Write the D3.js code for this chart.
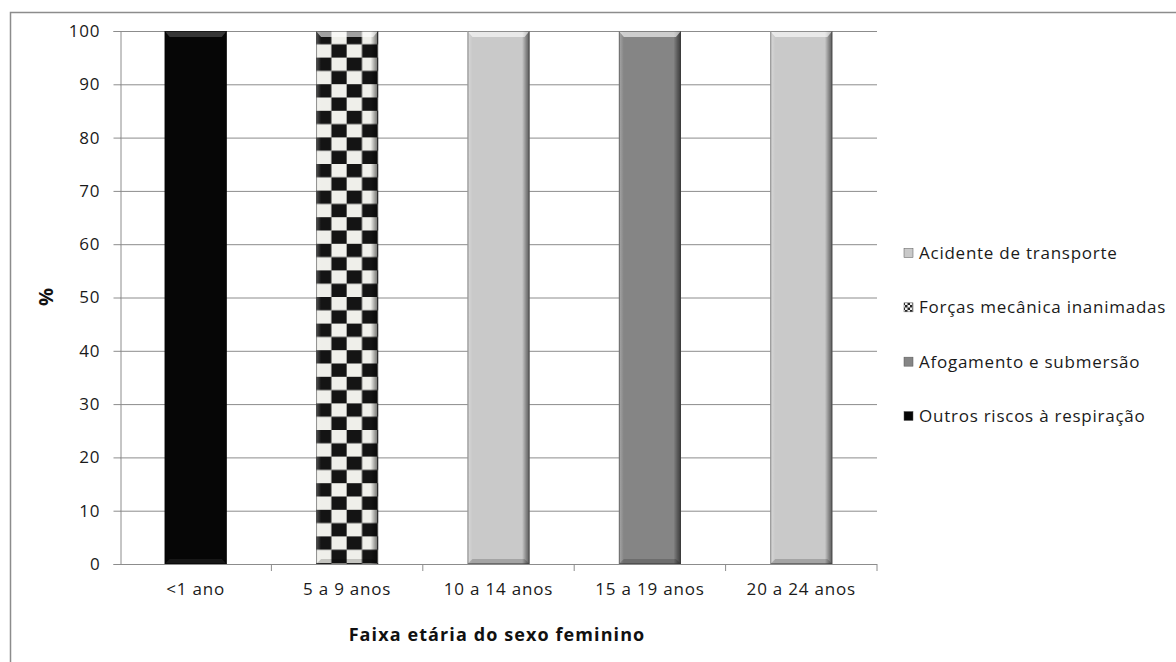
<!DOCTYPE html>
<html><head><meta charset="utf-8">
<script src="https://cdn.jsdelivr.net/npm/d3@7"></script>
<style>
html,body{margin:0;padding:0;background:#fff;}
svg{display:block;font-family:"Open Sans",sans-serif;}
</style></head>
<body>
<svg id="c" width="1176" height="662"></svg>
<script>
const categories = ["<1 ano","5 a 9 anos","10 a 14 anos","15 a 19 anos","20 a 24 anos"];
const seriesNames = ["Outros riscos à respiração","Afogamento e submersão","Forças mecânica inanimadas","Acidente de transporte"];
const outros      = [100, 0, 0, 0, 0];
const afogamento  = [0, 0, 0, 100, 0];
const forcas      = [0, 100, 0, 0, 0];
const acidente    = [0, 0, 100, 0, 100];
const yTicks = [0,10,20,30,40,50,60,70,80,90,100];
const legendOrder = ["Acidente de transporte","Forças mecânica inanimadas","Afogamento e submersão","Outros riscos à respiração"];

const valuesBySeries = {
  "Outros riscos à respiração": outros,
  "Afogamento e submersão": afogamento,
  "Forças mecânica inanimadas": forcas,
  "Acidente de transporte": acidente
};
const fills = {
  "Outros riscos à respiração": "#060606",
  "Afogamento e submersão": "#858585",
  "Forças mecânica inanimadas": "url(#checker)",
  "Acidente de transporte": "#c9c9c9"
};
const legendFills = {
  "Outros riscos à respiração": "#060606",
  "Afogamento e submersão": "#858585",
  "Forças mecânica inanimadas": "url(#checkerSmall)",
  "Acidente de transporte": "#c9c9c9"
};

const table = categories.map((c,i)=>{
  const o={cat:c};
  seriesNames.forEach(s=>o[s]=valuesBySeries[s][i]);
  return o;
});
const stacked = d3.stack().keys(seriesNames)(table);

const svg = d3.select("#c");
const defs = svg.append("defs");

const pL=120, pR=877, pT=31, pB=564;
const x = d3.scaleBand().domain(categories).range([pL,pR]).paddingInner(0.59).paddingOuter(0.295);
const xb = d3.scaleBand().domain(categories).range([pL,pR]);
const y = d3.scaleLinear().domain([0,100]).range([pB,pT]);

// checker pattern
const pat = defs.append("pattern").attr("id","checker").attr("patternUnits","userSpaceOnUse")
  .attr("width",30.6).attr("height",26.6).attr("x",x(categories[1])).attr("y",pT);
pat.append("rect").attr("width",30.6).attr("height",26.6).attr("fill","#efefea");
pat.append("rect").attr("x",0).attr("y",0).attr("width",15.3).attr("height",13.3).attr("fill","#141414");
pat.append("rect").attr("x",15.3).attr("y",13.3).attr("width",15.3).attr("height",13.3).attr("fill","#141414");
const pat2 = defs.append("pattern").attr("id","checkerSmall").attr("patternUnits","userSpaceOnUse")
  .attr("width",5).attr("height",5);
pat2.append("rect").attr("width",5).attr("height",5).attr("fill","#eee");
pat2.append("rect").attr("width",2.5).attr("height",2.5).attr("fill","#222");
pat2.append("rect").attr("x",2.5).attr("y",2.5).attr("width",2.5).attr("height",2.5).attr("fill","#222");

// bevel gradients
const gH = defs.append("linearGradient").attr("id","bevelH").attr("x1","0").attr("x2","1").attr("y1","0").attr("y2","0");
[[0,"#fff",0.3],[0.08,"#fff",0.0],[0.88,"#000",0.0],[0.95,"#000",0.35],[1,"#000",0.55]].forEach(s=>
  gH.append("stop").attr("offset",s[0]).attr("stop-color",s[1]).attr("stop-opacity",s[2]));

// frame
svg.append("rect").attr("x",10.5).attr("y",12.5).attr("width",1200).attr("height",700)
  .attr("fill","none").attr("stroke","#8c8c8c").attr("stroke-width",1.5);

// gridlines
svg.append("g").selectAll("line").data(yTicks.filter(t=>t>0)).join("line")
  .attr("x1",pL).attr("x2",pR).attr("y1",d=>y(d)+0.5).attr("y2",d=>y(d)+0.5)
  .attr("stroke","#8c8c8c").attr("stroke-width",1);

// y axis
const yAxis = svg.append("g").attr("transform",`translate(${pL+0.5},0)`)
  .call(d3.axisLeft(y).tickValues(yTicks).tickSize(7).tickPadding(13));
yAxis.select(".domain").attr("stroke","#8c8c8c");
yAxis.selectAll(".tick line").attr("stroke","#8c8c8c");
yAxis.selectAll("text").attr("font-size","17px").attr("letter-spacing","0.9px").attr("fill","#1a1a1a").attr("font-family","Open Sans, sans-serif");

// x axis
const xAxis = svg.append("g").attr("transform",`translate(0,${pB+0.5})`)
  .call(d3.axisBottom(x).tickSize(0).tickPadding(18));
xAxis.select(".domain").remove();
xAxis.selectAll("text").attr("font-size","17px").attr("letter-spacing","0.8px").attr("fill","#1a1a1a").attr("font-family","Open Sans, sans-serif");
svg.append("line").attr("x1",pL).attr("x2",pR).attr("y1",pB+0.5).attr("y2",pB+0.5).attr("stroke","#8c8c8c");
svg.append("g").selectAll("line").data(categories.slice(1).concat(["__end"])).join("line")
  .attr("x1",d=>d==="__end"?pR:xb(d)).attr("x2",d=>d==="__end"?pR:xb(d))
  .attr("y1",pB).attr("y2",pB+7).attr("stroke","#8c8c8c");

// bars
const barsG = svg.append("g");
stacked.forEach(layer=>{
  const key = layer.key;
  layer.forEach((d,i)=>{
    if (d[1]-d[0] <= 0) return;
    const bx = x(categories[i]), bw = x.bandwidth();
    const by = y(d[1]), bh = y(d[0]) - y(d[1]);
    const g = barsG.append("g");
    const dark = key==="Outros riscos à respiração";
    g.append("rect").attr("x",bx).attr("y",by).attr("width",bw).attr("height",bh).attr("fill",fills[key]);
    if (!dark) {
      g.append("rect").attr("x",bx).attr("y",by).attr("width",bw).attr("height",bh).attr("fill","url(#bevelH)");
    }
    g.append("path").attr("d",`M${bx},${by} L${bx+bw},${by} L${bx+bw-5},${by+6} L${bx+5},${by+6} Z`)
      .attr("fill",dark?"#3c3c3c":"#ffffff").attr("opacity",dark?0.9:0.6);
    g.append("path").attr("d",`M${bx},${by+bh} L${bx+bw},${by+bh} L${bx+bw-5},${by+bh-5} L${bx+5},${by+bh-5} Z`)
      .attr("fill",dark?"#1a1a1a":"#000").attr("opacity",dark?0.9:0.18);
    g.append("rect").attr("x",bx+0.5).attr("y",by+0.5).attr("width",bw-1).attr("height",bh-1)
      .attr("fill","none").attr("stroke",dark?"#000":"#333").attr("stroke-opacity",0.5);
  });
});

// axis titles
svg.append("text").attr("x",497).attr("y",641).attr("text-anchor","middle")
  .attr("font-size","18px").attr("letter-spacing","1.1px").attr("font-weight","bold").attr("fill","#111").text("Faixa etária do sexo feminino");
svg.append("text").attr("transform","translate(53,297) rotate(-90)").attr("text-anchor","middle")
  .attr("font-size","20px").attr("font-weight","bold").attr("fill","#111").text("%");

// legend
const lg = svg.append("g");
const ly = d3.scalePoint().domain(legendOrder).range([253,416]);
legendOrder.forEach(k=>{
  lg.append("rect").attr("x",904).attr("y",ly(k)-4.5).attr("width",9).attr("height",9).attr("fill",legendFills[k])
    .attr("stroke","#555").attr("stroke-width",0.5);
  lg.append("text").attr("x",919).attr("y",ly(k)+6).attr("font-size","17px").attr("letter-spacing","0.75px").attr("fill","#1a1a1a").text(k);
});
</script>
</body></html>
